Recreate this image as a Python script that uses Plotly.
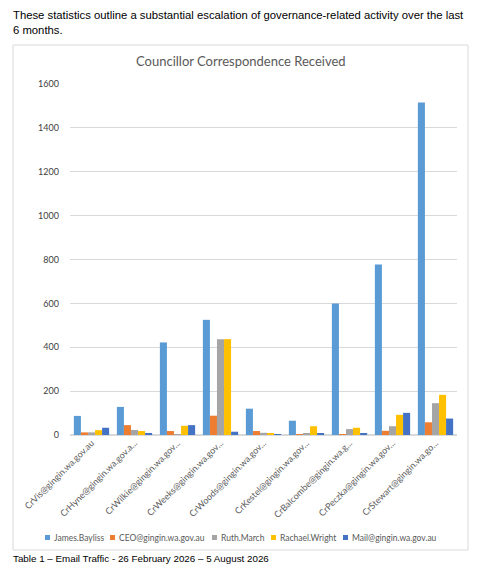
import plotly.graph_objects as go

categories = [
    "CrVis@gingin.wa.gov.au",
    "CrHyne@gingin.wa.gov.a...",
    "CrWilkie@gingin.wa.gov...",
    "CrWeeks@gingin.wa.gov...",
    "CrWoods@gingin.wa.gov...",
    "CrKestel@gingin.wa.gov...",
    "CrBalcombe@gingin.wa.g...",
    "CrPeczka@gingin.wa.gov...",
    "CrStewart@gingin.wa.go...",
]

james = [87, 128, 422, 525, 120, 65, 600, 777, 1516]
ceo = [12, 45, 18, 88, 18, 4, 4, 19, 58]
ruth = [12, 23, 3, 437, 10, 5, 27, 40, 145]
rachael = [22, 18, 42, 437, 5, 40, 33, 92, 183]
mail = [33, 5, 45, 15, 4, 8, 5, 101, 75]

series = [
    ("James.Bayliss", james, "#5B9BD5"),
    ("CEO@gingin.wa.gov.au", ceo, "#ED7D31"),
    ("Ruth.March", ruth, "#A5A5A5"),
    ("Rachael.Wright", rachael, "#FFC000"),
    ("Mail@gingin.wa.gov.au", mail, "#4472C4"),
]

# left edge (px) of each legend swatch
legend_x = [45, 110, 212, 271, 343]

chart_font = "Lato"
grey = "#595959"

fig = go.Figure()
for name, vals, col in series:
    fig.add_trace(go.Bar(x=categories, y=vals, name=name,
                         marker=dict(color=col, line=dict(width=0))))

# the page has an 8px body margin; positions below are page pixels
OFF = 8
# plot area is 70..457 px wide, 84..435 px tall on the page
L, R, T, B = 70 - OFF, 480 - 457 + OFF, 84 - OFF, 573 - 435 + OFF
W, H = 480 - L - R, 573 - T - B

def px(x):
    return (x - OFF - L) / W

def py(y):
    return (573 - B - (y - OFF)) / H

shapes = [dict(type="rect", xref="paper", yref="paper",
               x0=px(13), x1=px(468), y0=py(550), y1=py(45),
               line=dict(color="#D9D9D9", width=1), fillcolor="rgba(0,0,0,0)",
               layer="below")]
annotations = [
    dict(text="Councillor Correspondence Received", xref="paper", yref="paper",
         x=px(241), y=py(61), xanchor="center", yanchor="middle", showarrow=False,
         font=dict(family=chart_font, size=13, color=grey)),
    dict(text="These statistics outline a substantial escalation of governance-related activity over the last<br>6 months.",
         xref="paper", yref="paper", x=px(11), y=py(7), xanchor="left", yanchor="top",
         align="left", showarrow=False,
         font=dict(family="Liberation Sans", size=11.3, color="black")),
    dict(text="Table 1 \u2013 Email Traffic - 26 February 2026 \u2013 5 August 2026",
         xref="paper", yref="paper", x=px(11), y=py(558), xanchor="left", yanchor="middle",
         showarrow=False, font=dict(family="Liberation Sans", size=9.8, color="black")),
]

# legend drawn as swatches + labels, like the original single-row legend
for (name, vals, col), lx in zip(series, legend_x):
    shapes.append(dict(type="rect", xref="paper", yref="paper",
                       x0=px(lx), x1=px(lx + 5), y0=py(540), y1=py(535),
                       fillcolor=col, line=dict(width=0)))
    annotations.append(dict(text=name, xref="paper", yref="paper",
                            x=px(lx + 7), y=py(537.5), xanchor="left", yanchor="middle",
                            showarrow=False,
                            font=dict(family=chart_font, size=8.5, color=grey)))

fig.update_layout(
    width=480, height=573,
    margin=dict(l=L, r=R, t=T, b=B),
    paper_bgcolor="white", plot_bgcolor="white",
    barmode="group", bargap=0.18, bargroupgap=0,
    font=dict(family=chart_font, size=9, color=grey),
    showlegend=False,
    xaxis=dict(tickangle=-45, tickfont=dict(family=chart_font, size=9, color=grey),
               showline=False, ticks="", automargin=False),
    yaxis=dict(range=[0, 1600], dtick=200, gridcolor="#D9D9D9", gridwidth=1,
               zeroline=True, zerolinecolor="#D9D9D9", showline=False,
               automargin=False, ticklabelstandoff=10,
               tickfont=dict(family=chart_font, size=9, color="#404040")),
    shapes=shapes,
    annotations=annotations,
)

fig.write_html("out.html")
